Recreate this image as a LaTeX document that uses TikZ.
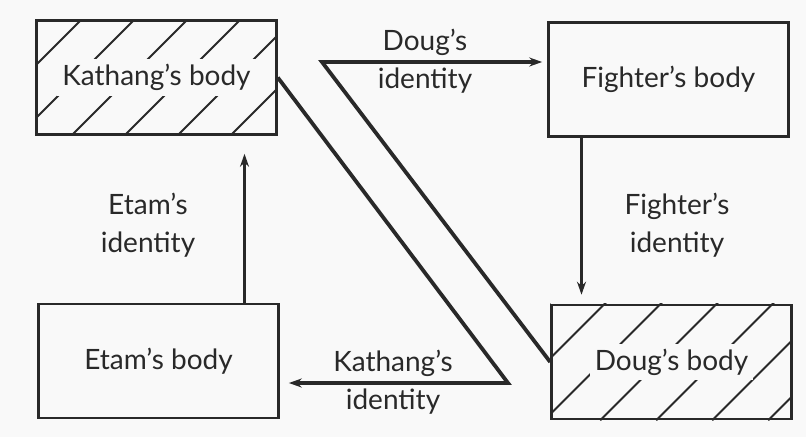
\documentclass[tikz,border=0pt]{standalone}
\usepackage{fontspec}
\setmainfont{Lato}
\usetikzlibrary{arrows.meta}
\definecolor{ink}{gray}{0.16}
\definecolor{paper}{gray}{0.975}
\tikzset{
  body/.style={draw=ink,line width=2.6pt,minimum width=240pt,minimum height=114pt,inner sep=0pt},
  word/.style={text=ink,font=\fontsize{28}{38}\selectfont,align=center},
  tag/.style={word,fill=paper,inner sep=5pt},
  hatch/.style={draw=ink,line width=2pt},
  swap/.style={draw=ink,line width=3.8pt,line join=miter},
  pass/.style={draw=ink,line width=3pt},
}
\begin{document}
\begin{tikzpicture}[x=1pt,y=-1pt,>={Stealth[length=13pt,width=9pt]}]
  \fill[paper] (0,0) rectangle (806,437);
  \useasboundingbox (0,0) rectangle (806,437);
  % the four bodies
  \node[body] (kathang) at (156.5,77.5) {};
  \node[body,word] (fighter) at (668.5,79.5) {Fighter’s body};
  \node[body,word] (etam) at (158.5,361) {Etam’s body};
  \node[body] (doug) at (671.5,362) {};
  % hatching of the swapped bodies
  \begin{scope}
    \clip (kathang.south west) rectangle (kathang.north east);
    \foreach \s in {-3,...,4}
      \draw[hatch] ([xshift={36pt+\s*53pt}]kathang.south west) -- ++(125,-125);
  \end{scope}
  \begin{scope}
    \clip (doug.south west) rectangle (doug.north east);
    \foreach \s in {-3,...,4}
      \draw[hatch] ([xshift={50pt+\s*56pt}]doug.south west) -- ++(125,-125);
  \end{scope}
  \node[tag] (kname) at (kathang) {Kathang’s body};
  \node[tag] (dname) at (doug) {Doug’s body};
  % bends of the crossing identities
  \coordinate (kbend) at (508,383);
  \coordinate (dbend) at (322,62);
  \draw[swap,->,shorten >=9pt] (kathang.east) -- (kbend) -- (etam.east |- kbend);
  \draw[swap,->,shorten >=5pt] (doug.west) -- (dbend) -- (fighter.west |- dbend);
  \draw[pass,->,shorten >=9pt] ([xshift=-87pt]fighter.south) -- ([xshift=-87pt]fighter.south |- doug.north);
  \draw[pass,->,shorten >=18pt] ([xshift=86pt]etam.north) -- ([xshift=86pt]etam.north |- kathang.south);
  % labels
  \node[word] (dlabel) at (425,61) {Doug’s\\identity};
  \node[word] (flabel) at (677,225) {Fighter’s\\identity};
  \node[word] (elabel) at (148,225) {Etam’s\\identity};
  \node[word] (klabel) at (393,382) {Kathang’s\\identity};
\end{tikzpicture}
\end{document}
